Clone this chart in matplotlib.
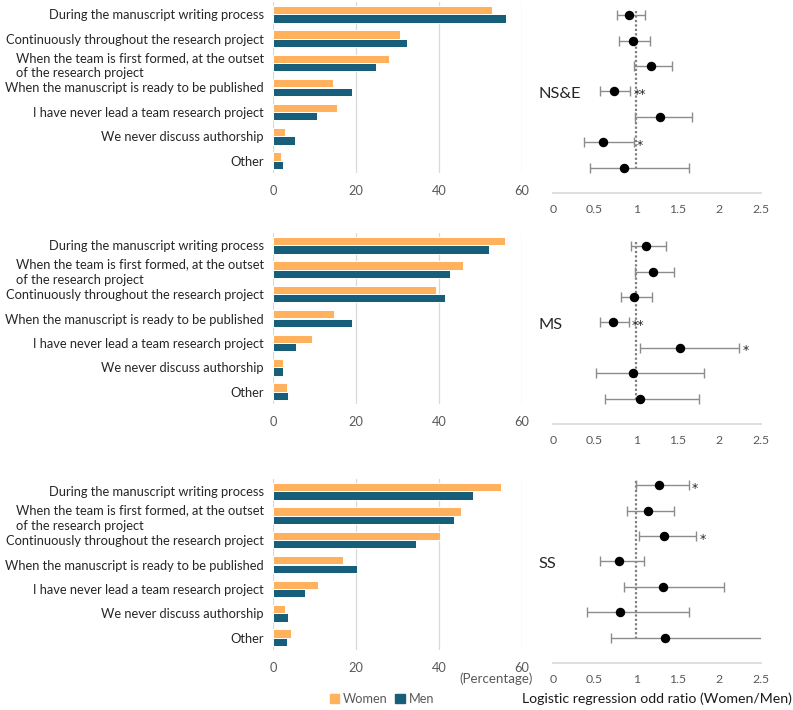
import numpy as np
import matplotlib.pyplot as plt
from matplotlib.patches import Patch

W, H = 793, 710
plt.rcParams['font.family'] = ['Lato', 'DejaVu Sans']

orange = '#FFB15E'
teal = '#175E7A'
grid_c = '#d9d9d9'
tick_c = '#595959'

# categories, top to bottom
cats_nse = ["During the manuscript writing process",
            "Continuously throughout the research project",
            "When the team is first formed, at the outset\nof the research project",
            "When the manuscript is ready to be published",
            "I have never lead a team research project",
            "We never discuss authorship",
            "Other"]
cats_ms = ["During the manuscript writing process",
           "When the team is first formed, at the outset\nof the research project",
           "Continuously throughout the research project",
           "When the manuscript is ready to be published",
           "I have never lead a team research project",
           "We never discuss authorship",
           "Other"]
cats_ss = cats_ms

# percentages
women_nse = [52.8, 30.6, 27.9, 14.5, 15.5, 3.0, 2.0]
men_nse = [56.1, 32.3, 24.9, 19.0, 10.6, 5.2, 2.5]
women_ms = [56.0, 45.7, 39.3, 14.8, 9.3, 2.4, 3.3]
men_ms = [52.1, 42.6, 41.4, 19.0, 5.5, 2.4, 3.6]
women_ss = [54.9, 45.4, 40.3, 16.8, 10.9, 3.0, 4.4]
men_ss = [48.3, 43.5, 34.5, 20.3, 7.7, 3.7, 3.3]

# odds ratios (women/men) with confidence limits
or_nse = [0.91, 0.96, 1.18, 0.73, 1.29, 0.60, 0.85]
lo_nse = [0.77, 0.79, 0.97, 0.57, 0.99, 0.37, 0.45]
hi_nse = [1.10, 1.17, 1.43, 0.93, 1.67, 0.97, 1.64]
sig_nse = ['', '', '', '**', '', '*', '']

or_ms = [1.12, 1.20, 0.97, 0.72, 1.53, 0.96, 1.04]
lo_ms = [0.94, 0.99, 0.82, 0.56, 1.05, 0.52, 0.62]
hi_ms = [1.36, 1.45, 1.19, 0.91, 2.24, 1.82, 1.76]
sig_ms = ['', '', '', '**', '*', '', '']

or_ss = [1.28, 1.14, 1.34, 0.79, 1.32, 0.81, 1.35]
lo_ss = [1.00, 0.89, 1.03, 0.57, 0.85, 0.41, 0.70]
hi_ss = [1.63, 1.46, 1.72, 1.09, 2.05, 1.63, 2.60]
sig_ss = ['*', '', '*', '', '', '', '']

panels = [("NS&E", cats_nse, women_nse, men_nse, or_nse, lo_nse, hi_nse, sig_nse),
          ("MS", cats_ms, women_ms, men_ms, or_ms, lo_ms, hi_ms, sig_ms),
          ("SS", cats_ss, women_ss, men_ss, or_ss, lo_ss, hi_ss, sig_ss)]

bar_tops = [2, 233, 479]
forest_bottoms = [193, 424, 663]

fig = plt.figure(figsize=(W / 100, H / 100), dpi=100)


def px_axes(left, top, right, bottom):
    return fig.add_axes([left / W, 1 - bottom / H, (right - left) / W, (bottom - top) / H])


for k, (name, cats, wv, mv, orv, lo, hi, sig) in enumerate(panels):
    # bar chart
    ax = px_axes(273, bar_tops[k], 522, bar_tops[k] + 171)
    y = np.arange(len(cats))
    ax.barh(y - 0.175, wv, height=0.34, color=orange, edgecolor='white', linewidth=0.7, zorder=3)
    ax.barh(y + 0.175, mv, height=0.34, color=teal, edgecolor='white', linewidth=0.7, zorder=3)
    ax.set_xlim(0, 60)
    ax.set_ylim(6.5, -0.5)
    ax.set_xticks([0, 20, 40, 60])
    ax.xaxis.grid(True, color=grid_c, linewidth=0.9, zorder=0)
    ax.set_yticks(y)
    ax.set_yticklabels(cats, fontsize=9.25, color='#262626', multialignment='left', linespacing=1.3)
    ax.tick_params(axis='y', length=0, pad=6.5)
    ax.tick_params(axis='x', length=0, pad=8.5, labelsize=9.2, labelcolor=tick_c)
    for s in ax.spines.values():
        s.set_visible(False)

    # forest plot
    fx = px_axes(553, forest_bottoms[k] - 190.5, 761, forest_bottoms[k])
    r = np.arange(len(orv))
    orv = np.array(orv)
    lo = np.array(lo)
    hi = np.array(hi)
    fx.vlines(1, -0.15, 6.05, colors='#7f7f7f', linewidth=1.6, linestyles=(0, (1, 1)), zorder=2)
    fx.errorbar(orv, r, xerr=[orv - lo, hi - orv], fmt='o', color='black', markersize=5.8,
                ecolor='#8c8c8c', elinewidth=1.0, capsize=3.5, capthick=1.0, zorder=3)
    for i, s in enumerate(sig):
        if s:
            fx.text(hi[i] + 0.04, i + 0.12, s, fontsize=9, ha='left', va='center',
                    color='#262626', family='DejaVu Sans')
    fx.text(-0.18, 3.1, name, fontsize=11.8, ha='left', va='center', color='#262626', clip_on=False)
    fx.set_xlim(0, 2.5)
    fx.set_ylim(7, -0.5)
    fx.set_xticks([0, 0.5, 1, 1.5, 2, 2.5])
    fx.set_xticklabels(['0', '0.5', '1', '1.5', '2', '2.5'])
    fx.set_yticks([])
    fx.tick_params(axis='x', length=0, pad=8, labelsize=8.8, labelcolor=tick_c)
    for side in ['top', 'right', 'left']:
        fx.spines[side].set_visible(False)
    fx.spines['bottom'].set_color(grid_c)
    fx.spines['bottom'].set_linewidth(1.2)

fig.text(533 / W, 1 - 679 / H, "(Percentage)", fontsize=9.6, color=tick_c, ha='right', va='center')
fig.text(522 / W, 1 - 699 / H, "Logistic regression odd ratio (Women/Men)", fontsize=10.2,
         color='#1a1a1a', ha='left', va='center')
handles = [Patch(color=orange, label='Women'), Patch(color=teal, label='Men')]
fig.legend(handles=handles, loc='center', bbox_to_anchor=(382 / W, 1 - 699 / H), ncol=2,
           frameon=False, fontsize=9.2, labelcolor=tick_c, handlelength=0.75, handleheight=0.75,
           handletextpad=0.3, columnspacing=0.6, borderpad=0)

fig.savefig('out.png', dpi=100)
